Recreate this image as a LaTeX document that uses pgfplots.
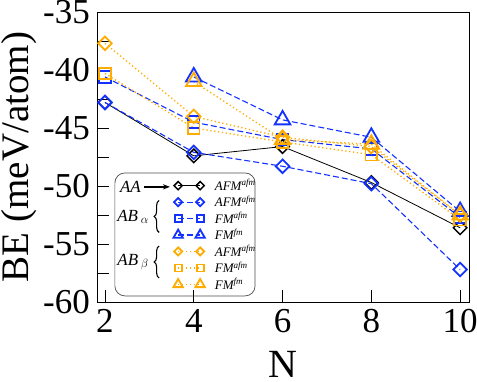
\documentclass[border=0pt]{standalone}
\usepackage{fontspec}
\setmainfont{Liberation Serif}
\usepackage{pgfplots}
\pgfplotsset{compat=1.18}
\usetikzlibrary{arrows.meta,decorations.pathreplacing}

\definecolor{gblue}{RGB}{20,50,255}
\definecolor{gorange}{RGB}{255,172,0}

\begin{document}
\begin{tikzpicture}
\begin{axis}[
    at={(0,0)}, anchor=south west,
    scale only axis,
    width=372pt, height=290pt,
    xmin=1.82, xmax=10.2,
    ymin=-60, ymax=-35,
    xtick={2,4,6,8,10},
    ytick={-60,-55,-50,-45,-40,-35},
    minor ytick={-57.5,-52.5,-47.5,-42.5,-37.5},
    tick pos=left,
    tick align=inside,
    major tick length=12pt,
    minor tick length=12pt,
    every tick/.style={black, line width=0.8pt},
    axis line style={line width=0.8pt},
    tick label style={font=\fontsize{35}{35}\selectfont, inner sep=0pt},
    yticklabel style={xshift=-7pt},
    xticklabel style={yshift=-7pt},
    /pgf/number format/assume math mode=true,
    xlabel={N},
    ylabel={BE (meV/atom)},
    every axis x label/.style={at={(axis description cs:0.5,-0.215)}, anchor=center,
        inner sep=0pt, font=\fontsize{40}{40}\selectfont},
    every axis y label/.style={at={(axis description cs:-0.21,0.5)}, anchor=center, rotate=90,
        inner sep=0pt, font=\fontsize{39}{39}\selectfont},
    legend image code/.code={
        \draw[mark repeat=2, mark phase=1, #1, every mark/.append style={scale=0.6}]
        plot coordinates {(0pt,0pt) (11pt,0pt) (22pt,0pt)};
    },
    legend style={at={(rel axis cs:0.205,0.43)}, anchor=north west, draw=none, fill=none,
        font=\fontsize{13}{14}\selectfont\itshape, row sep=0.2pt, column sep=8pt, inner sep=0pt},
    legend cell align=left,
]
\addplot[black, line width=0.8pt, mark=square, mark size=4.8pt,
    mark options={rotate=45, line width=1.5pt}]
    coordinates {(2,-42.8) (4,-47.4) (6,-46.6) (8,-49.7) (10,-53.6)};
\addlegendentry{AFM\textsuperscript{afm}}
\addplot[gblue, line width=1.1pt, dash pattern=on 6pt off 3pt, mark=square, mark size=4.8pt,
    mark options={solid, rotate=45, line width=1.8pt}]
    coordinates {(2,-42.8) (4,-47.1) (6,-48.3) (8,-49.8) (10,-57.2)};
\addlegendentry{AFM\textsuperscript{afm}}
\addplot[gblue, line width=1.1pt, dash pattern=on 6pt off 3pt, mark=square, mark size=5.8pt,
    mark options={solid, line width=1.8pt}]
    coordinates {(2,-40.6) (4,-44.5) (6,-46.0) (8,-46.8) (10,-52.7)};
\addlegendentry{FM\textsuperscript{afm}}
\addplot[gblue, line width=1.1pt, dash pattern=on 6pt off 3pt, mark=triangle, mark size=9pt,
    mark options={solid, line width=1.8pt}]
    coordinates {(4,-40.6) (6,-44.3) (8,-45.8) (10,-52.2)};
\addlegendentry{FM\textsuperscript{fm}}
\addplot[gorange, line width=1.3pt, dash pattern=on 1.3pt off 2.6pt, mark=square, mark size=4.8pt,
    mark options={solid, rotate=45, line width=1.8pt}]
    coordinates {(2,-37.7) (4,-44.0) (6,-45.8) (8,-46.6) (10,-52.5)};
\addlegendentry{AFM\textsuperscript{afm}}
\addplot[gorange, line width=1.3pt, dash pattern=on 1.3pt off 2.6pt, mark=square, mark size=5.8pt,
    mark options={solid, line width=1.8pt}]
    coordinates {(2,-40.3) (4,-45.0) (6,-46.2) (8,-47.3) (10,-52.9)};
\addlegendentry{FM\textsuperscript{afm}}
\addplot[gorange, line width=1.3pt, dash pattern=on 1.3pt off 2.6pt, mark=triangle, mark size=9pt,
    mark options={solid, line width=1.8pt}]
    coordinates {(4,-41.0) (6,-46.0) (8,-46.4) (10,-52.5)};
\addlegendentry{FM\textsuperscript{fm}}

% legend frame and group labels
\draw[gray!60!black, line width=0.7pt, rounded corners=10pt]
    (rel axis cs:0.048,0.021) rectangle (rel axis cs:0.425,0.445);
\node[font=\fontsize{17}{17}\selectfont\itshape] at (rel axis cs:0.09,0.397) {AA};
\draw[-{Stealth[length=7pt]}, line width=1.3pt] (rel axis cs:0.127,0.397) -- (rel axis cs:0.196,0.397);
\node[font=\fontsize{17}{17}\selectfont] at (rel axis cs:0.097,0.293) {\textit{AB}\,$_{\alpha}$};
\draw[decorate, decoration={brace, amplitude=5pt}, line width=1.1pt]
    (rel axis cs:0.167,0.24) -- (rel axis cs:0.167,0.35);
\node[font=\fontsize{17}{17}\selectfont] at (rel axis cs:0.097,0.138) {\textit{AB}\,$_{\beta}$};
\draw[decorate, decoration={brace, amplitude=5pt}, line width=1.1pt]
    (rel axis cs:0.167,0.083) -- (rel axis cs:0.167,0.193);
\end{axis}
\pgfresetboundingbox
\path[use as bounding box] (-97pt,-80pt) rectangle (380pt,302pt);
\end{tikzpicture}
\end{document}
